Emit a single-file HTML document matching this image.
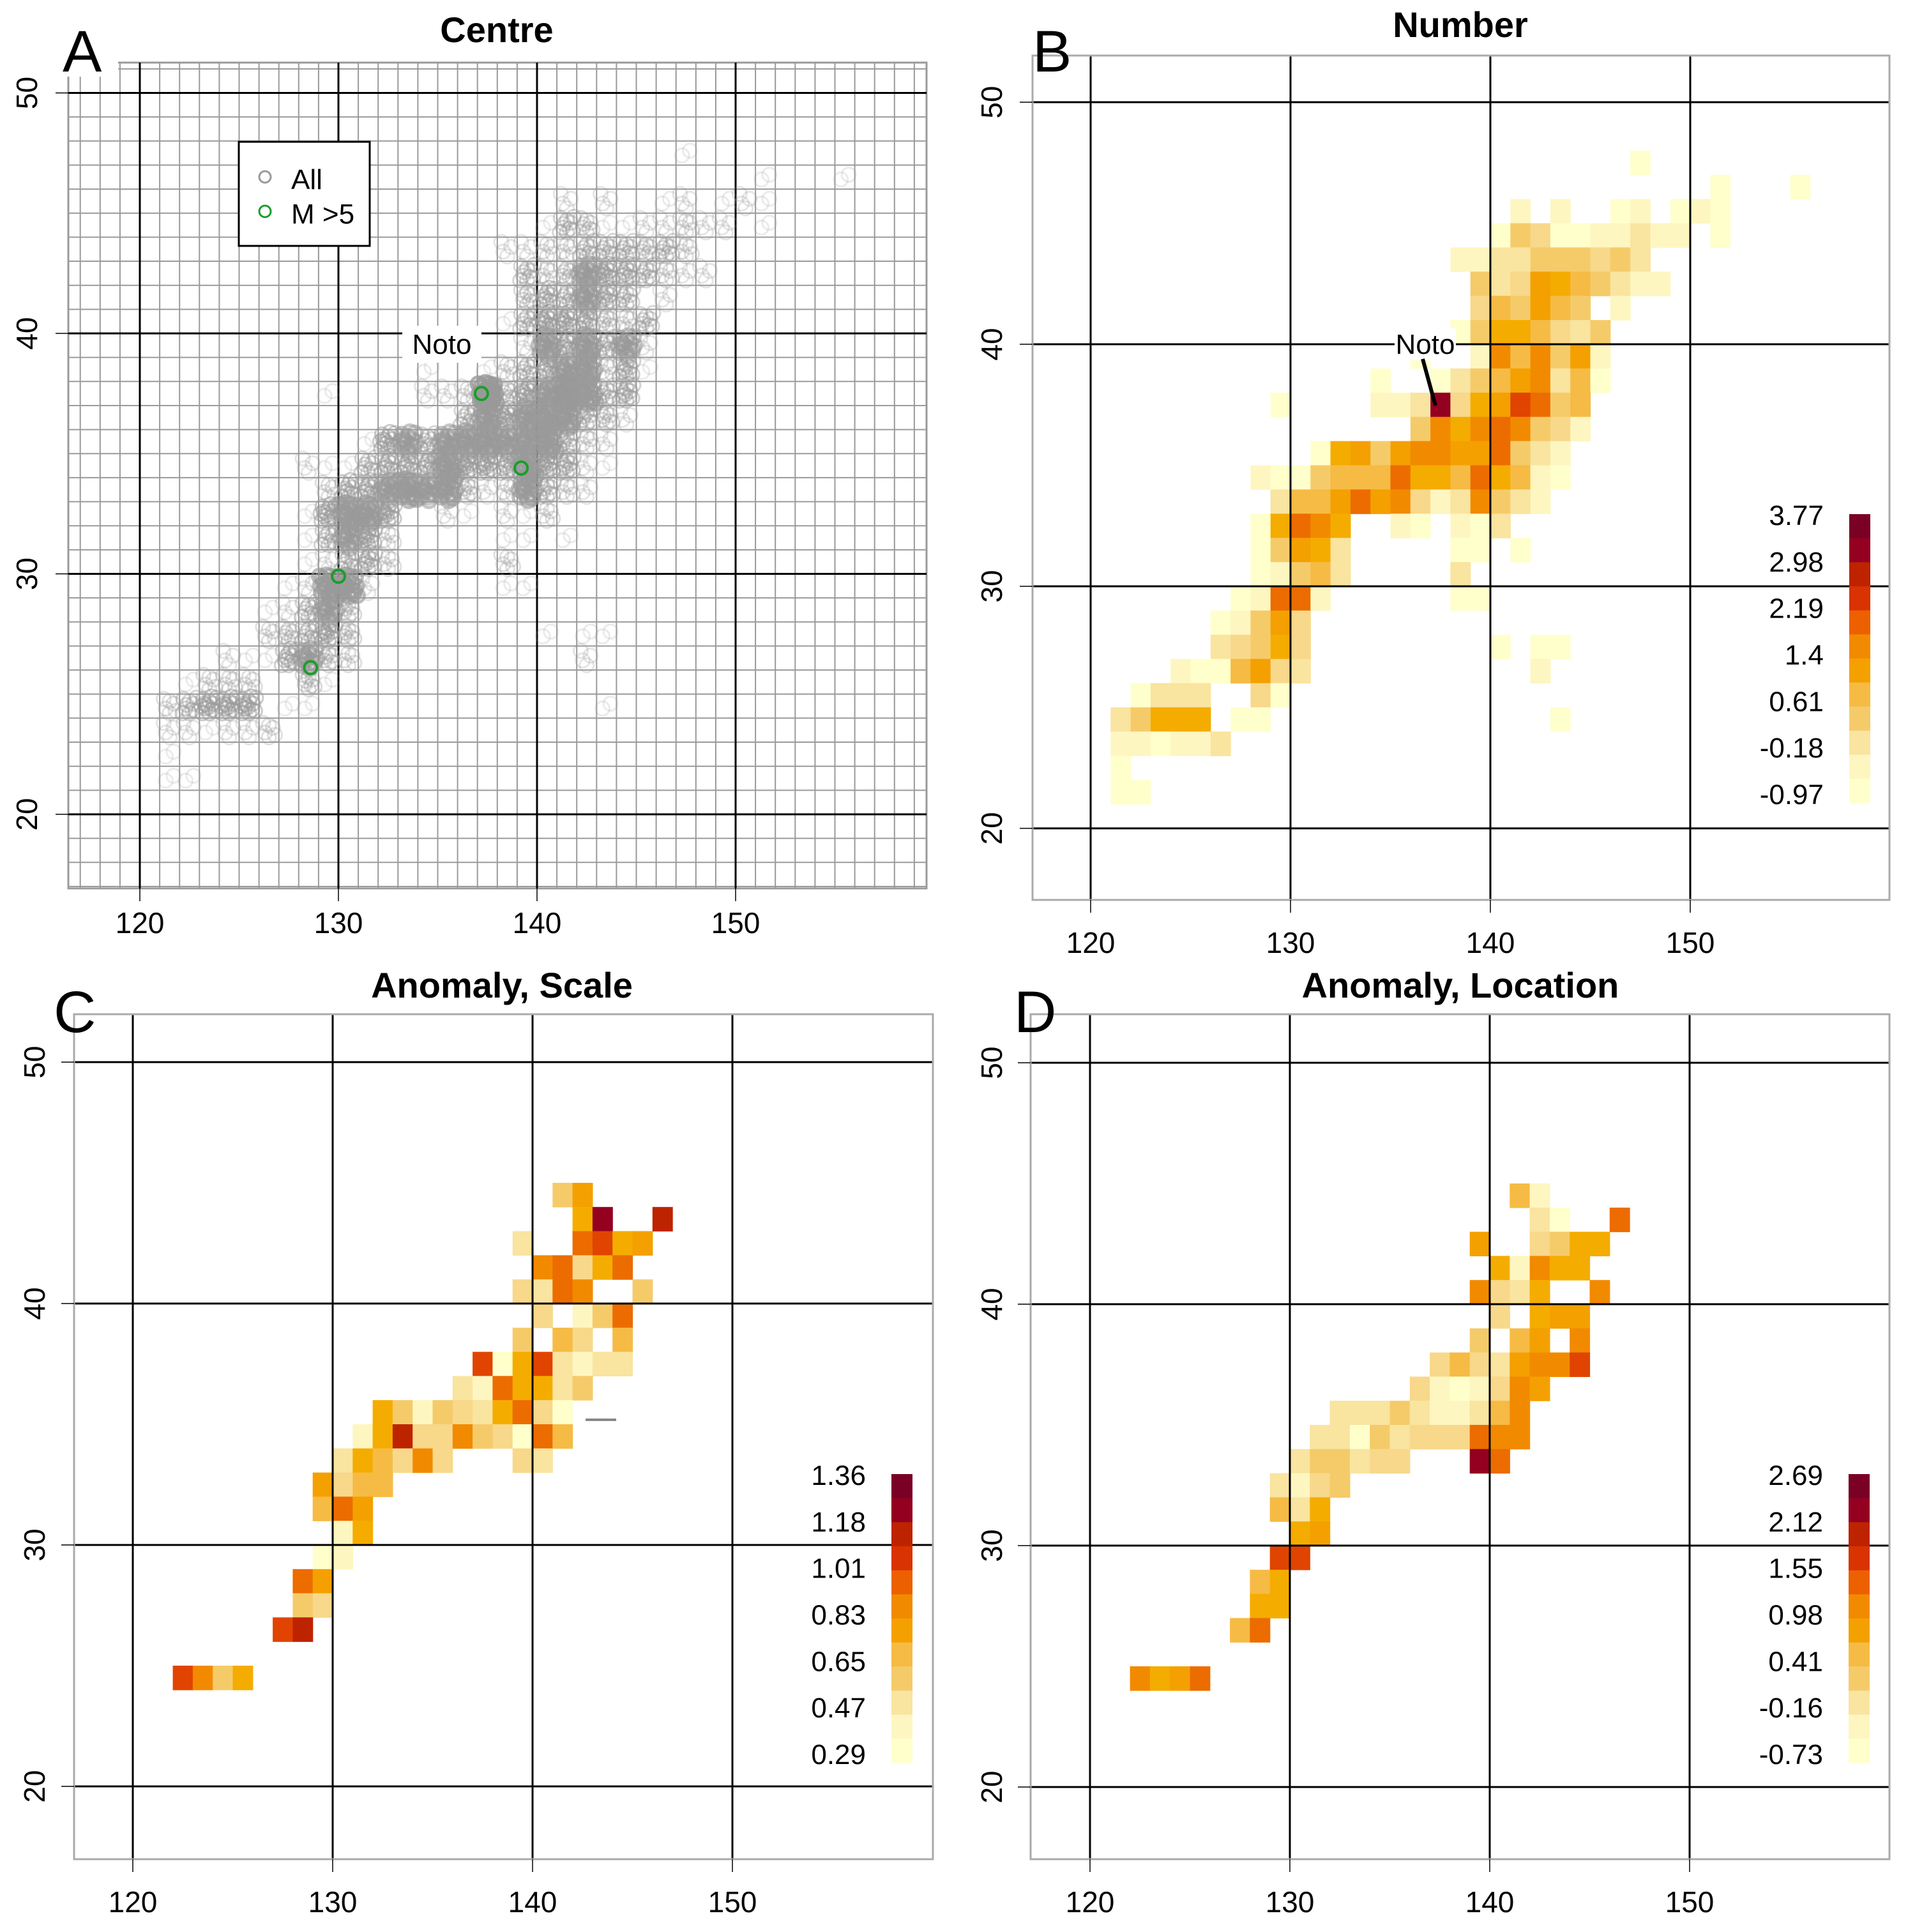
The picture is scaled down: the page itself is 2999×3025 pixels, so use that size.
<!DOCTYPE html>
<html><head><meta charset="utf-8"><title>Earthquake grid maps</title>
<style>
html,body{margin:0;padding:0;background:#fff;}
svg{display:block;font-family:"Liberation Sans",Arial,sans-serif;}
</style></head>
<body>
<svg id="fig" xmlns="http://www.w3.org/2000/svg" width="2999" height="3025" viewBox="0 0 2999 3025">
<rect x="0" y="0" width="2999" height="3025" fill="#fff"/>
</svg>
<script>
// ---- data ----
const lonTicks = [120, 130, 140, 150];
const latTicks = [20, 30, 40, 50];
const legendB = ["3.77","2.98","2.19","1.4","0.61","-0.18","-0.97"];
const legendC = ["1.36","1.18","1.01","0.83","0.65","0.47","0.29"];
const legendD = ["2.69","2.12","1.55","0.98","0.41","-0.16","-0.73"];
const levelColors = ["#FFFFCC","#FEF6C0","#F9E4A0","#F8D88A","#F5CB6A","#F6BB45","#F5AC00","#F4A000","#F28A00","#EC6C00","#E04400","#BE2300","#940020"];
const barColors = ["#7A0025","#940020","#BE2300","#D83300","#EC6000","#F28A00","#F4A000","#F6BB45","#F5CB6A","#F9E4A0","#FEF6C0","#FFFFCC"];
// cells: [lon, lat, level]
const cellsB = [
[147,47,0],[151,46,0],[155,46,0],
[141,45,1],[143,45,1],[146,45,0],[147,45,1],[149,45,0],[150,45,1],[151,45,0],
[140,44,0],[141,44,4],[142,44,3],[143,44,0],[144,44,0],[145,44,1],[146,44,1],[147,44,2],[148,44,1],[149,44,1],[151,44,0],
[138,43,1],[139,43,1],[140,43,2],[141,43,2],[142,43,4],[143,43,4],[144,43,4],[145,43,3],[146,43,4],[147,43,2],
[139,42,4],[140,42,2],[141,42,3],[142,42,7],[143,42,6],[144,42,5],[145,42,4],[146,42,2],[147,42,1],[148,42,1],
[139,41,3],[140,41,5],[141,41,4],[142,41,7],[143,41,5],[144,41,4],[146,41,1],
[138,40,0],[139,40,4],[140,40,6],[141,40,6],[142,40,5],[143,40,3],[144,40,2],[145,40,4],
[136,39,0],[139,39,1],[140,39,8],[141,39,5],[142,39,8],[143,39,4],[144,39,7],[145,39,1],
[134,38,0],[137,38,0],[138,38,2],[139,38,4],[140,38,5],[141,38,7],[142,38,8],[143,38,2],[144,38,5],[145,38,0],
[129,37,0],[134,37,1],[135,37,1],[136,37,2],[137,37,12],[138,37,3],[139,37,6],[140,37,7],[141,37,10],[142,37,9],[143,37,4],[144,37,5],
[136,36,4],[137,36,8],[138,36,6],[139,36,8],[140,36,9],[141,36,8],[142,36,4],[143,36,3],[144,36,1],
[131,35,0],[132,35,6],[133,35,7],[134,35,4],[135,35,7],[136,35,8],[137,35,8],[138,35,7],[139,35,7],[140,35,9],[141,35,4],[142,35,2],[143,35,1],
[128,34,1],[129,34,0],[130,34,0],[131,34,4],[132,34,5],[133,34,5],[134,34,5],[135,34,9],[136,34,6],[137,34,6],[138,34,5],[139,34,9],[140,34,6],[141,34,5],[142,34,1],[143,34,0],
[129,33,2],[130,33,5],[131,33,5],[132,33,7],[133,33,9],[134,33,7],[135,33,8],[136,33,3],[137,33,1],[138,33,2],[139,33,8],[140,33,4],[141,33,2],[142,33,1],
[128,32,0],[129,32,6],[130,32,9],[131,32,8],[132,32,6],[135,32,1],[136,32,0],[138,32,1],[139,32,0],[140,32,2],
[128,31,0],[129,31,4],[130,31,7],[131,31,6],[132,31,2],[138,31,0],[139,31,0],[141,31,0],
[128,30,0],[129,30,1],[130,30,4],[131,30,5],[132,30,2],[138,30,2],
[127,29,0],[128,29,1],[129,29,9],[130,29,9],[131,29,1],[138,29,0],[139,29,0],
[126,28,0],[127,28,1],[128,28,4],[129,28,7],[130,28,3],
[126,27,2],[127,27,3],[128,27,4],[129,27,6],[130,27,3],[140,27,0],[142,27,0],[143,27,0],
[124,26,1],[125,26,0],[126,26,0],[127,26,5],[128,26,7],[129,26,3],[130,26,2],[142,26,1],
[122,25,0],[123,25,2],[124,25,2],[125,25,2],[128,25,3],[129,25,0],
[121,24,2],[122,24,4],[123,24,6],[124,24,6],[125,24,6],[127,24,0],[128,24,0],[143,24,0],
[121,23,1],[122,23,1],[123,23,0],[124,23,1],[125,23,1],[126,23,2],
[121,22,0],[121,21,0],[122,21,0]
];
const cellsC = [
[141,44,4],[142,44,7],
[142,43,6],[143,43,12],[146,43,11],
[139,42,2],[142,42,9],[143,42,10],[144,42,6],[145,42,7],
[140,41,8],[141,41,9],[142,41,3],[143,41,6],[144,41,9],
[139,40,3],[140,40,2],[141,40,9],[142,40,8],[145,40,4],
[140,39,3],[142,39,1],[143,39,4],[144,39,9],
[139,38,4],[141,38,5],[142,38,3],[144,38,5],
[137,37,10],[138,37,0],[139,37,6],[140,37,10],[141,37,2],[142,37,1],[143,37,2],[144,37,2],
[136,36,2],[137,36,1],[138,36,9],[139,36,6],[140,36,6],[141,36,2],[142,36,4],
[132,35,6],[133,35,4],[134,35,1],[135,35,4],[136,35,3],[137,35,2],[138,35,6],[139,35,9],[140,35,3],[141,35,0],
[131,34,1],[132,34,6],[133,34,11],[134,34,3],[135,34,3],[136,34,8],[137,34,4],[138,34,3],[139,34,0],[140,34,9],[141,34,5],
[130,33,2],[131,33,6],[132,33,5],[133,33,3],[134,33,8],[135,33,3],[139,33,3],[140,33,2],
[129,32,7],[130,32,3],[131,32,5],[132,32,5],
[129,31,5],[130,31,9],[131,31,7],
[130,30,1],[131,30,6],
[129,29,0],[130,29,1],
[128,28,9],[129,28,7],
[128,27,4],[129,27,3],
[127,26,10],[128,26,11],
[122,24,10],[123,24,8],[124,24,4],[125,24,6]
];
const cellsD = [
[141,44,5],[142,44,1],
[142,43,2],[143,43,0],[146,43,9],
[139,42,7],[142,42,3],[143,42,4],[144,42,6],[145,42,6],
[140,41,6],[141,41,1],[142,41,8],[143,41,6],[144,41,6],
[139,40,8],[140,40,3],[141,40,2],[142,40,6],[145,40,8],
[140,39,3],[142,39,6],[143,39,7],[144,39,7],
[139,38,4],[141,38,5],[142,38,7],[144,38,8],
[137,37,3],[138,37,5],[139,37,3],[140,37,2],[141,37,7],[142,37,8],[143,37,8],[144,37,10],
[136,36,3],[137,36,1],[138,36,0],[139,36,1],[140,36,3],[141,36,8],[142,36,7],
[132,35,2],[133,35,2],[134,35,2],[135,35,4],[136,35,2],[137,35,1],[138,35,1],[139,35,2],[140,35,5],[141,35,8],
[131,34,2],[132,34,2],[133,34,0],[134,34,4],[135,34,2],[136,34,3],[137,34,3],[138,34,3],[139,34,9],[140,34,8],[141,34,8],
[130,33,2],[131,33,4],[132,33,4],[133,33,2],[134,33,3],[135,33,3],[139,33,12],[140,33,9],
[129,32,2],[130,32,1],[131,32,3],[132,32,4],
[129,31,5],[130,31,2],[131,31,6],
[130,30,6],[131,30,7],
[129,29,10],[130,29,10],
[128,28,5],[129,28,6],
[128,27,6],[129,27,6],
[127,26,5],[128,26,9],
[122,24,8],[123,24,6],[124,24,7],[125,24,9]
];
// large events (M > 5): lon, lat
const bigLon = [137.2, 139.2, 130.0, 128.6];
const bigLat = [37.5, 34.4, 29.9, 26.1];

// ---- drawing ----
const NS = "http://www.w3.org/2000/svg";
const svg = document.getElementById("fig");
function mk(tag, attrs, parent) {
  const e = document.createElementNS(NS, tag);
  for (const k in attrs) e.setAttribute(k, attrs[k]);
  (parent || svg).appendChild(e);
  return e;
}
function axes(x130, dx, y40, dy) {
  return { x: lon => x130 + (lon - 130) * dx, y: lat => y40 - (lat - 40) * dy, dx: dx, dy: dy };
}
const panels = {
  A: { ax: axes(530, 31.1, 522, 37.65), fx: 107, fy: 98, fw: 1344, fh: 1293, xl: 1445, yl: 42 },
  B: { ax: axes(2021, 31.3, 539, 37.9), fx: 1617, fy: 87, fw: 1342, fh: 1322, xl: 1476, yl: 1553 },
  C: { ax: axes(521, 31.3, 2041, 37.8), fx: 116, fy: 1588, fw: 1345, fh: 1323, xl: 2978, yl: 54 },
  D: { ax: axes(2020, 31.3, 2042, 37.8), fx: 1614, fy: 1588, fw: 1345, fh: 1323, xl: 2978, yl: 1553 }
};

function drawAxesText(p, key) {
  const g = mk("g", {});
  
  
  lonTicks.forEach(v => {
    const x = p.ax.x(v);
    const t = mk("line", { x1: x, y1: p.fy + p.fh, x2: x, y2: p.fy + p.fh + 20, stroke: "#000", "stroke-width": 1.5 }, g);
    
    
    const tx = mk("text", { x: x, y: p.xl + 16, "font-size": 46, "text-anchor": "middle", fill: "#000" }, g);
    tx.textContent = v;
    
    
  });
  latTicks.forEach(v => {
    const y = p.ax.y(v);
    const t = mk("line", { x1: p.fx - 20, y1: y, x2: p.fx, y2: y, stroke: "#000", "stroke-width": 1.5 }, g);
    
    
    const tx = mk("text", { x: p.yl + 16, y: y, "font-size": 46, "text-anchor": "middle", fill: "#000", transform: "rotate(-90 " + (p.yl + 16) + " " + y + ")" }, g);
    tx.textContent = v;
    
    
  });
}
function majorLines(p, g) {
  lonTicks.forEach(v => {
    const l = mk("line", { x1: p.ax.x(v), y1: p.fy, x2: p.ax.x(v), y2: p.fy + p.fh, stroke: "#000", "stroke-width": 3 }, g);
    
    
  });
  latTicks.forEach(v => {
    const l = mk("line", { x1: p.fx, y1: p.ax.y(v), x2: p.fx + p.fw, y2: p.ax.y(v), stroke: "#000", "stroke-width": 3 }, g);
    
    
  });
}
function title(txt, x, y, letter, lx, ly) {
  const t = mk("text", { x: x, y: y, "font-size": 56, "font-weight": "bold", "text-anchor": "middle" });
  t.textContent = txt;
  
  
  const l = mk("text", { x: lx, y: ly, "font-size": 92, "text-anchor": "start" });
  l.textContent = letter;
  
  
}
function heat(p, cells, key) {
  const g = mk("g", {});
  
  
  cells.forEach(c => {
    const r = mk("rect", { x: p.ax.x(c[0]), y: p.ax.y(c[1] + 1), width: p.ax.dx + 0.6, height: p.ax.dy + 0.6, fill: levelColors[c[2]] }, g);
    
    
  });
  return g;
}
function frame(p, key) {
  const f = mk("rect", { x: p.fx, y: p.fy, width: p.fw, height: p.fh, fill: "none", stroke: "#aaa", "stroke-width": 3 });
  
  
}
function colorbar(labels, bx, by, key) {
  const g = mk("g", {});
  
  
  const h = 452 / barColors.length;
  barColors.forEach((c, i) => {
    const r = mk("rect", { x: bx, y: by + i * h, width: 33, height: h + 0.5, fill: c }, g);
    
    
  });
  const sp = 437 / (labels.length - 1);
  labels.forEach((s, i) => {
    const t = mk("text", { x: bx - 40, y: by + 1 + i * sp + 16, "font-size": 44, "text-anchor": "end" }, g);
    t.textContent = s;
    
    
  });
}

// ---------- Panel A ----------
(function () {
  const p = panels.A;
  const g = mk("g", {});
  
  
  for (let lon = 117; lon <= 159; lon++) {
    const l = mk("line", { x1: p.ax.x(lon), y1: p.fy, x2: p.ax.x(lon), y2: p.fy + p.fh, stroke: "#9a9a9a", "stroke-width": 2 }, g);
    
    
  }
  for (let lat = 17; lat <= 51; lat++) {
    const l = mk("line", { x1: p.fx, y1: p.ax.y(lat), x2: p.fx + p.fw, y2: p.ax.y(lat), stroke: "#9a9a9a", "stroke-width": 2 }, g);
    
    
  }
  const fr = mk("rect", { x: p.fx, y: p.fy, width: p.fw, height: p.fh, fill: "none", stroke: "#9a9a9a", "stroke-width": 3 }, g);
  
  
  majorLines(p, g);
  // scatter of event centres, density follows cell counts
  const offs = [[0.3,0.4],[0.7,0.6],[0.5,0.2],[0.2,0.8],[0.8,0.3],[0.5,0.7],[0.35,0.55],[0.65,0.35],[0.15,0.2],[0.85,0.85],[0.45,0.45],[0.6,0.9],[0.25,0.6],[0.1,0.5],[0.9,0.5],[0.55,0.05],[0.4,0.95],[0.75,0.15],[0.05,0.9],[0.95,0.1],[0.3,0.1],[0.7,0.8],[0.2,0.35],[0.8,0.65],[0.5,0.5],[0.62,0.55]];
  const sc = mk("g", {});
  
  
  cellsB.forEach(c => {
    const n = 2 * (c[2] + 1);
    for (let k = 0; k < n; k++) {
      const o = offs[k % offs.length];
      const ci = mk("circle", { cx: p.ax.x(c[0] + o[0]), cy: p.ax.y(c[1] + o[1]), r: 11, fill: "none", stroke: "#999", "stroke-opacity": 0.2 + 0.05 * c[2], "stroke-width": 3 + (c[2] > 6 ? 2 : 0) }, sc);
      
      
    }
  });
  bigLon.forEach((lon, i) => {
    const ci = mk("circle", { cx: p.ax.x(lon), cy: p.ax.y(bigLat[i]), r: 10, fill: "none", stroke: "#1a9e2a", "stroke-width": 4 });
    
    
  });
  // Noto label
  const bg = mk("rect", { x: 630, y: 510, width: 124, height: 58, fill: "#fff" });
  
  
  const nt = mk("text", { x: 692, y: 554, "font-size": 44, "text-anchor": "middle" });
  nt.textContent = "Noto";
  
  
  // legend
  const lg = mk("g", {});
  
  
  const lr = mk("rect", { x: 374, y: 222, width: 205, height: 163, fill: "#fff", stroke: "#000", "stroke-width": 3 }, lg);
  
  
  const c1 = mk("circle", { cx: 415, cy: 277, r: 9, fill: "none", stroke: "#999", "stroke-width": 3 }, lg);
  
  
  const t1 = mk("text", { x: 456, y: 296, "font-size": 44 }, lg);
  t1.textContent = "All";
  
  
  const c2 = mk("circle", { cx: 415, cy: 331, r: 9, fill: "none", stroke: "#1a9e2a", "stroke-width": 3 }, lg);
  
  
  const t2 = mk("text", { x: 456, y: 350, "font-size": 44 }, lg);
  t2.textContent = "M >5";
  
  
  drawAxesText(p, "A");
  const wb = mk("rect", { x: 95, y: 20, width: 90, height: 100, fill: "#fff" });
  
  
  title("Centre", 778, 66, "A", 98, 112);
})();

// ---------- Panel B ----------
(function () {
  const p = panels.B;
  heat(p, cellsB, "number");
  const g = mk("g", {});
  
  
  majorLines(p, g);
  frame(p, "b");
  drawAxesText(p, "B");
  const bg = mk("rect", { x: 2184, y: 514, width: 96, height: 50, fill: "#fff" });
  
  
  const nt = mk("text", { x: 2232, y: 554, "font-size": 44, "text-anchor": "middle" });
  nt.textContent = "Noto";
  
  
  const pl = mk("line", { x1: 2228, y1: 562, x2: 2248, y2: 635, stroke: "#000", "stroke-width": 6 });
  
  
  colorbar(legendB, 2896, 805, "number");
  title("Number", 2287, 58, "B", 1617, 112);
})();

// ---------- Panel C ----------
(function () {
  const p = panels.C;
  heat(p, cellsC, "scale");
  const g = mk("g", {});
  
  
  majorLines(p, g);
  frame(p, "c");
  drawAxesText(p, "C");
  const d = mk("line", { x1: 917, y1: 2223, x2: 965, y2: 2223, stroke: "#888", "stroke-width": 4 });
  
  
  colorbar(legendC, 1396, 2308, "scale");
  title("Anomaly, Scale", 786, 1562, "C", 84, 1616);
})();

// ---------- Panel D ----------
(function () {
  const p = panels.D;
  heat(p, cellsD, "location");
  const g = mk("g", {});
  
  
  majorLines(p, g);
  frame(p, "d");
  drawAxesText(p, "D");
  colorbar(legendD, 2895, 2308, "location");
  title("Anomaly, Location", 2287, 1562, "D", 1588, 1616);
})();
</script>
</body></html>
